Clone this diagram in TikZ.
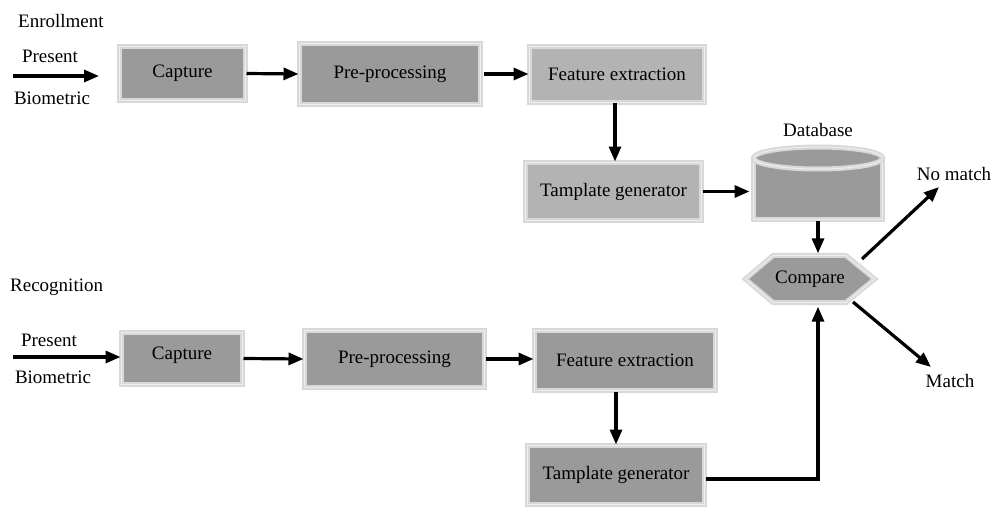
\documentclass[tikz,border=0pt]{standalone}
\usepackage{fontspec}
\setmainfont{Liberation Serif}
\usetikzlibrary{arrows.meta,calc}

\definecolor{boxfill}{HTML}{9A9A9A}
\definecolor{boxlight}{HTML}{B3B3B3}
\definecolor{boxedge}{HTML}{D8D8D8}
\definecolor{boxseam}{HTML}{EEEEEE}

\newcommand\labelfont{\fontsize{19}{22}\selectfont}

\pgfdeclarelayer{background}
\pgfsetlayers{background,main}

\tikzset{
  shell/.style={fill=boxfill, draw=boxedge, double=boxseam,
                line width=2pt, double distance=1pt},
  stage/.style={shell, rectangle, inner sep=0pt, font=\labelfont},
  lighter/.style={fill=boxlight},
  caption/.style={font=\labelfont, inner sep=0pt},
  flow/.style={line width=3.2pt, -{Triangle[length=15pt,width=12pt]}},
}

\begin{document}
\begin{tikzpicture}[x=1pt, y=-1pt]
\path[use as bounding box] (0,0) rectangle (995,508);

% ---------------- enrollment path ----------------
\node[caption, anchor=west] (enroll) at (18,21) {Enrollment};
\node[caption] (present1) at (50,56) {Present};
\node[caption] (biom1) at (52,98) {Biometric};
\coordinate (in1) at (13,76);
\coordinate (in1e) at (99,76);

\node[stage, minimum width=126pt, minimum height=54pt] (cap1) at (182.5,73.5) {Capture};
\node[stage, minimum width=181pt, minimum height=61pt] (pre1) at (390,74) {Pre-processing};
\node[stage, lighter, minimum width=175pt, minimum height=56pt] (fe1) at (617,74.5) {Feature extraction};
\node[stage, lighter, minimum width=176pt, minimum height=58pt] (tg1) at (613.5,191.5) {Tamplate generator};

% database cylinder: body, then top ellipse
\node[stage, minimum width=129pt, minimum height=59pt] (db) at (818,190) {};
\draw[shell] (818,158) ellipse [x radius=64.5pt, y radius=11pt];
\node[caption] (dblabel) at (818,130) {Database};

% ---------------- comparison ----------------
\node[caption, minimum width=129pt, minimum height=47pt] (cmp) at (810,279) {Compare};
\begin{pgfonlayer}{background}
  \draw[shell] (cmp.west) -- ($(cmp.north west)+(28,0)$) -- ($(cmp.north east)+(-29,0)$)
    -- (cmp.east) -- ($(cmp.south east)+(-29,0)$) -- ($(cmp.south west)+(28,0)$) -- cycle;
\end{pgfonlayer}

\node[caption] (nomatch) at (954,174) {No match};
\node[caption] (match) at (950,381) {Match};
\coordinate (nmtip) at (939,187);
\coordinate (mtip) at (931,367);

% ---------------- recognition path ----------------
\node[caption, anchor=west] (recog) at (10,287) {Recognition};
\node[caption] (present2) at (49,340) {Present};
\node[caption] (biom2) at (53,377) {Biometric};
\coordinate (in2) at (13,357);

\node[stage, minimum width=121pt, minimum height=52pt] (cap2) at (182,358.5) {\raisebox{10pt}{Capture}};
\node[stage, minimum width=180pt, minimum height=57pt] (pre2) at (394.5,359) {Pre-processing};
\node[stage, minimum width=181pt, minimum height=60pt] (fe2) at (625,360.5) {Feature extraction};
\node[stage, minimum width=177pt, minimum height=59pt] (tg2) at (616,475) {Tamplate generator};

% ---------------- connectors ----------------
\draw[flow] (in1) -- (in1e);
\draw[flow] (cap1.east) -- (pre1.west);
\draw[flow, shorten <=2pt] (pre1.east) -- (pre1.east -| fe1.west);
\draw[flow] (fe1.south -| 615,0) -- (tg1.north -| 615,0);
\draw[flow, shorten >=3pt] (tg1.east) -- (tg1.east -| db.west);
\draw[flow, shorten >=2pt] (db.south) -- (db.south |- cmp.north);
\draw[flow] ($(cmp.center)+(52,-20)$) -- (nmtip);
\draw[flow] ($(cmp.center)+(43,23)$) -- (mtip);

\draw[flow] (in2) -- (in2 -| cap2.west);
\draw[flow] (cap2.east) -- (pre2.west);
\draw[flow] (pre2.east) -- (pre2.east -| fe2.west);
\draw[flow] (fe2.south -| 616,0) -- (tg2.north -| 616,0);
\draw[flow, shorten >=4pt] ([yshift=-4pt]tg2.east) -| (cmp.south -| db.south);
\end{tikzpicture}
\end{document}
